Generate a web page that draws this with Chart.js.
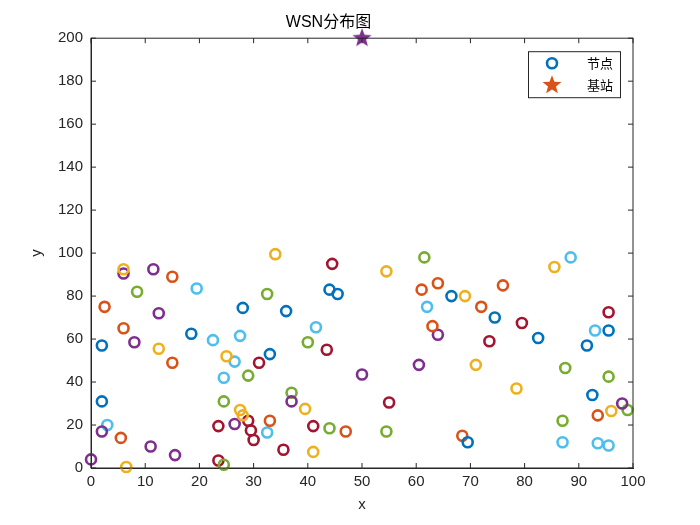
<!DOCTYPE html>
<html lang="zh">
<head>
<meta charset="UTF-8">
<title>WSN分布图</title>
<style>
  body { margin: 0; background: #fff; }
  #wrap { width: 700px; height: 525px; }
</style>
</head>
<body>
<div id="wrap"><canvas id="c" width="700" height="525"></canvas></div>
<script src="https://cdn.jsdelivr.net/npm/chart.js"></script>
<script>
// 节点坐标，按 MATLAB 默认颜色分组
const blueNodes = [[2,57],[2,31],[18.5,62.5],[28,74.5],[33,53],[36,73],[44,83],[45.5,81],[66.5,80],[69.5,12],[74.5,70],[82.5,60.5],[91.5,57],[92.5,34],[95.5,64]];
const orangeNodes = [[2.5,75],[5.5,14],[6,65],[15,89],[15,49],[33,22],[47,17],[61,83],[63,66],[64,86],[68.5,15],[72,75],[76,85],[93.5,24.5]];
const yellowNodes = [[6,92.5],[6.5,0.5],[12.5,55.5],[25,52],[27.5,27],[28,24.5],[34,99.5],[39.5,27.5],[41,7.5],[54.5,91.5],[71,48],[78.5,37],[85.5,93.5],[96,26.5],[69,80]];
const purpleNodes = [[0,4],[2,17],[6,90.5],[8,58.5],[11,10],[11.5,92.5],[12.5,72],[15.5,6],[26.5,20.5],[37,31],[50,43.5],[60.5,48],[64,62],[98,30]];
const greenNodes = [[8.5,82],[24.5,1.5],[24.5,31],[29,43],[32.5,81],[37,35],[40,58.5],[44,18.5],[54.5,17],[61.5,98],[87,22],[87.5,46.5],[95.5,42.5],[99,27]];
const cyanNodes = [[3,20],[19.5,83.5],[22.5,59.5],[24.5,42],[26.5,49.5],[27.5,61.5],[32.5,16.5],[41.5,65.5],[62,75],[87,12],[88.5,98],[93.5,11.5],[95.5,10.5],[93,64]];
const redNodes = [[23.5,3.5],[23.5,19.5],[29,22],[29.5,17.5],[30,13],[31,49],[35.5,8.5],[41,19.5],[43.5,55],[44.5,95],[55,30.5],[73.5,59],[79.5,67.5],[95.5,72.5]];
const baseStation = [[50,200]];
const xTicks = [0,10,20,30,40,50,60,70,80,90,100];
const yTicks = [0,20,40,60,80,100,120,140,160,180,200];
const legendLabels = ['节点', '基站'];

const groups = [
  [blueNodes, '#0072BD'], [orangeNodes, '#D95319'], [yellowNodes, '#EDB120'],
  [purpleNodes, '#7E2F8E'], [greenNodes, '#77AC30'], [cyanNodes, '#4DBEEE'], [redNodes, '#A2142F']
];

function starPath(g, cx, cy, r) {
  g.beginPath();
  for (let i = 0; i < 10; i++) {
    const a = -Math.PI / 2 + i * Math.PI / 5;
    const rr = i % 2 ? r * 0.42 : r;
    g.lineTo(cx + rr * Math.cos(a), cy + rr * Math.sin(a));
  }
  g.closePath();
}
function starImg(color, r) {
  const cv = document.createElement('canvas');
  cv.width = cv.height = r * 2 + 2;
  const g = cv.getContext('2d');
  starPath(g, r + 1, r + 1, r);
  g.fillStyle = color;
  g.fill();
  return cv;
}

const datasets = groups.map(([pts, col]) => ({
  data: pts.map(p => ({x: p[0], y: p[1]})),
  pointStyle: 'circle', pointRadius: 5, borderWidth: 2.6,
  borderColor: col, backgroundColor: 'rgba(0,0,0,0)', pointHoverRadius: 5
}));
datasets.push({
  data: baseStation.map(p => ({x: p[0], y: p[1]})),
  pointStyle: starImg('#7E2F8E', 10), borderColor: '#7E2F8E'
});

const tickFont = {family: 'Arial, Liberation Sans', size: 15};
new Chart(document.getElementById('c'), {
  type: 'scatter',
  data: {datasets},
  options: {
    responsive: false, animation: false, clip: false,
    layout: {padding: {left: 24, right: 67, top: 1, bottom: 11}},
    plugins: {
      title: {display: true, text: 'WSN分布图', color: '#000', font: {family: 'Arial, Noto Sans CJK SC', size: 16, weight: 'normal'}, padding: {top: 12, bottom: 6}},
      tooltip: {enabled: false},
      legend: {display: false}
    },
    scales: {
      x: {
        type: 'linear', min: 0, max: 100,
        afterBuildTicks: s => { s.ticks = xTicks.map(v => ({value: v})); },
        grid: {display: false, drawTicks: false},
        border: {color: '#262626'},
        ticks: {color: '#262626', font: tickFont, padding: 5},
        title: {display: true, text: 'x', color: '#262626', font: {family: 'Arial', size: 15}, padding: 0}
      },
      y: {
        type: 'linear', min: 0, max: 200,
        afterBuildTicks: s => { s.ticks = yTicks.map(v => ({value: v})); },
        grid: {display: false, drawTicks: false},
        border: {color: '#262626'},
        ticks: {color: '#262626', font: tickFont, padding: 8},
        title: {display: true, text: 'y', color: '#262626', font: {family: 'Arial', size: 15}, padding: 4}
      }
    }
  },
  plugins: [{
    id: 'box',
    afterDraw(chart) {
      const {ctx, chartArea: a} = chart;
      ctx.save();
      ctx.strokeStyle = '#262626'; ctx.lineWidth = 1;
      ctx.strokeRect(a.left, a.top, a.right - a.left, a.bottom - a.top);
      ctx.beginPath();
      xTicks.forEach(v => { const px = chart.scales.x.getPixelForValue(v);
        ctx.moveTo(px, a.bottom); ctx.lineTo(px, a.bottom - 5); ctx.moveTo(px, a.top); ctx.lineTo(px, a.top + 5); });
      yTicks.forEach(v => { const py = chart.scales.y.getPixelForValue(v);
        ctx.moveTo(a.left, py); ctx.lineTo(a.left + 5, py); ctx.moveTo(a.right, py); ctx.lineTo(a.right - 5, py); });
      ctx.stroke();
      // legend box
      const lx = a.right - 105, ly = a.top + 13, lw = 92, lh = 46;
      ctx.fillStyle = '#fff';
      ctx.fillRect(lx, ly, lw, lh);
      ctx.strokeRect(lx + 0.5, ly + 0.5, lw, lh);
      ctx.beginPath(); ctx.arc(lx + 24, ly + 12, 5, 0, Math.PI * 2);
      ctx.lineWidth = 2.6; ctx.strokeStyle = '#0072BD'; ctx.stroke();
      starPath(ctx, lx + 24, ly + 34, 10); ctx.fillStyle = '#D95319'; ctx.fill();
      ctx.fillStyle = '#000'; ctx.font = '13px "Noto Sans CJK SC"'; ctx.textBaseline = 'middle';
      ctx.fillText(legendLabels[0], lx + 59, ly + 12);
      ctx.fillText(legendLabels[1], lx + 59, ly + 34);
      ctx.restore();
    }
  }]
});
</script>
</body>
</html>
